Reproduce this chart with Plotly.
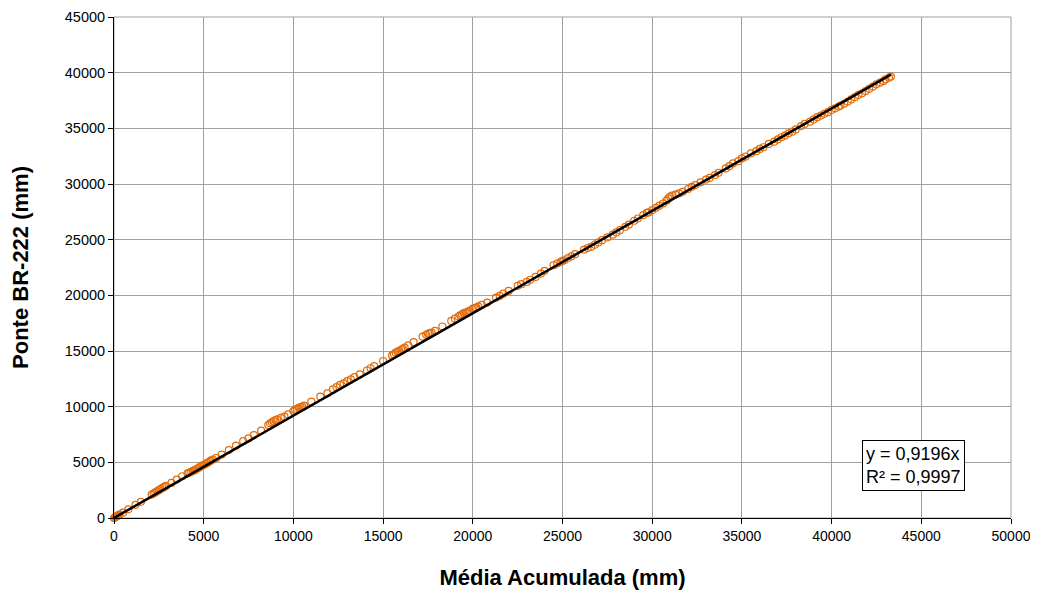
import plotly.graph_objects as go

# Observed data points (Média Acumulada vs Ponte BR-222), in mm
media_run1 = [0, 150, 300, 500, 800, 1200, 1500, 2100, 2300, 2500, 2700, 2900, 3200, 3500,
              3800, 4100, 4300, 4500, 4700, 5000, 5300, 5500, 5700, 6000, 6400, 6800, 7200,
              7500, 7800, 8200, 8700, 9000, 9300, 9700, 10000, 10300, 10600, 11000, 11500,
              11900, 12400, 12800, 13200, 13700, 14100, 14500, 15000, 15500, 15800, 16000,
              16200, 16700, 17200, 17600, 17900, 18300, 18800, 19200, 19500, 19800, 20000,
              20300, 20800, 21300, 21700, 22000, 22500, 23000, 23500, 24000, 24500, 24900,
              25300, 25700, 26200, 26600, 27000, 27500, 28000, 28500, 29000, 29500, 30000,
              30400, 30800, 31000, 31300, 31700, 32200, 32700, 33200, 33700, 34100, 34500,
              35000, 35500, 36000, 36500, 37000, 37400, 37800, 38300, 38800, 39200, 39600,
              40000, 40400, 40700, 41100, 41500, 41900, 42300, 42700, 43000, 43300]
ponte_run1 = [0, 150, 300, 480, 780, 1180, 1450, 2100, 2300, 2500, 2700, 2880, 3150, 3450,
              3750, 4000, 4150, 4300, 4480, 4750, 5050, 5250, 5400, 5700, 6100, 6500, 6900,
              7150, 7450, 7850, 8500, 8800, 9000, 9300, 9600, 9900, 10100, 10450, 10900,
              11200, 11750, 12100, 12450, 12900, 13250, 13650, 14100, 14600, 14950, 15100,
              15300, 15800, 16300, 16600, 16800, 17200, 17700, 18100, 18400, 18600, 18800,
              19000, 19350, 19800, 20150, 20400, 20850, 21200, 21650, 22200, 22700, 23000,
              23350, 23700, 24100, 24350, 24750, 25200, 25650, 26150, 26700, 27200, 27650,
              28050, 28500, 28850, 29050, 29300, 29750, 30150, 30550, 31000, 31400, 31850,
              32300, 32750, 33150, 33600, 34000, 34350, 34700, 35200, 35600, 36000, 36300,
              36650, 36950, 37200, 37600, 38000, 38350, 38750, 39100, 39400, 39650]

media_run2 = [50, 100, 200, 250, 2200, 2400, 2600, 2800, 4200, 4400, 4600, 4800, 4900, 5100,
              5200, 5400, 8600, 8800, 8900, 9100, 9500, 10100, 10200, 10400, 10500, 12200,
              12600, 13000, 13400, 14300, 15600, 15700, 15900, 16100, 16400, 17400, 17500,
              17700, 19000, 19300, 19400, 19600, 19700, 20100, 20200, 20500, 21500, 22700,
              23200, 23800, 24700, 25000, 25100, 25500, 26400, 26800, 27200, 27800, 28200,
              28700, 29200, 29700, 29800, 30200, 30600, 30900, 31100, 31500, 32000, 32400,
              33000, 33500, 34300, 34800, 35200, 35800, 36200, 36800, 37200, 37600, 38000,
              38500, 39000, 39400, 39800, 40200, 40500, 40900, 41300, 41700, 42100, 42500,
              42900, 43200]
ponte_run2 = [40, 110, 190, 240, 2200, 2400, 2600, 2790, 4080, 4230, 4400, 4600, 4700, 4850,
              4950, 5150, 8350, 8600, 8700, 8850, 9100, 9700, 9800, 9950, 10000, 11550,
              11950, 12300, 12650, 13450, 14700, 14850, 15000, 15200, 15500, 16450, 16550,
              16650, 17900, 18200, 18300, 18450, 18500, 18850, 18900, 19150, 19950, 21000,
              21400, 21950, 22850, 23100, 23150, 23500, 24250, 24550, 24950, 25450, 25850,
              26350, 26900, 27400, 27450, 27850, 28250, 28700, 28950, 29150, 29550, 29900,
              30400, 30800, 31600, 32050, 32450, 32950, 33300, 33800, 34200, 34550, 34900,
              35400, 35800, 36150, 36450, 36800, 37050, 37400, 37800, 38150, 38550, 38950,
              39250, 39550]

media_acumulada = media_run1 + media_run2
ponte_br222 = ponte_run1 + ponte_run2

# Linear trendline through origin (from the chart's equation)
trend_slope = 0.9196
trend_x = [0, 43300]
trend_y = [trend_slope * v for v in trend_x]

x_ticks = [0, 5000, 10000, 15000, 20000, 25000, 30000, 35000, 40000, 45000, 50000]
y_ticks = [0, 5000, 10000, 15000, 20000, 25000, 30000, 35000, 40000, 45000]

font_family = "Liberation Sans, Arial, sans-serif"

fig = go.Figure()
fig.add_trace(go.Scatter(
    x=media_acumulada, y=ponte_br222, mode="markers",
    marker=dict(symbol="circle-open", size=7, color="#E46C0A", line=dict(width=1.2, color="#E46C0A")),
    showlegend=False, cliponaxis=False))
fig.add_trace(go.Scatter(
    x=trend_x, y=trend_y, mode="lines",
    line=dict(color="black", width=2.5), showlegend=False))

fig.add_shape(type="rect", xref="paper", yref="paper", x0=0, y0=0, x1=1, y1=1,
              line=dict(color="#a0a0a0", width=1), layer="below")

fig.add_annotation(
    xref="x", yref="y", x=44540, y=4740, xanchor="center", yanchor="middle",
    text="y = 0,9196x<br>R² = 0,9997", showarrow=False, align="left",
    font=dict(family=font_family, size=18, color="black"),
    bordercolor="black", borderwidth=1, bgcolor="white", borderpad=3)

axis_common = dict(
    showgrid=True, gridcolor="#a0a0a0", gridwidth=1,
    showline=True, linecolor="black", linewidth=1,
    ticks="outside", ticklen=5, tickcolor="black",
    zeroline=False, mirror=False, automargin=False,
    ticklabeloverflow="allow",
)

fig.update_xaxes(range=[0, 50000], tickvals=x_ticks, ticktext=[str(v) for v in x_ticks],
                 tickfont=dict(family=font_family, size=14, color="black"),
                 title=dict(text="<b>Média Acumulada (mm)</b>", standoff=26,
                            font=dict(family=font_family, size=22, color="black")),
                 **axis_common)
fig.update_yaxes(range=[0, 45000], tickvals=y_ticks, ticktext=[str(v) for v in y_ticks],
                 tickfont=dict(family=font_family, size=14.5, color="black"),
                 title=dict(text="<b>Ponte BR-222 (mm)</b>", standoff=37,
                            font=dict(family=font_family, size=22, color="black")),
                 **axis_common)

fig.update_layout(
    width=1038, height=597,
    margin=dict(l=106, r=35, t=9, b=87),
    plot_bgcolor="white", paper_bgcolor="white",
    font=dict(family=font_family),
)

fig.write_html("out.html")
